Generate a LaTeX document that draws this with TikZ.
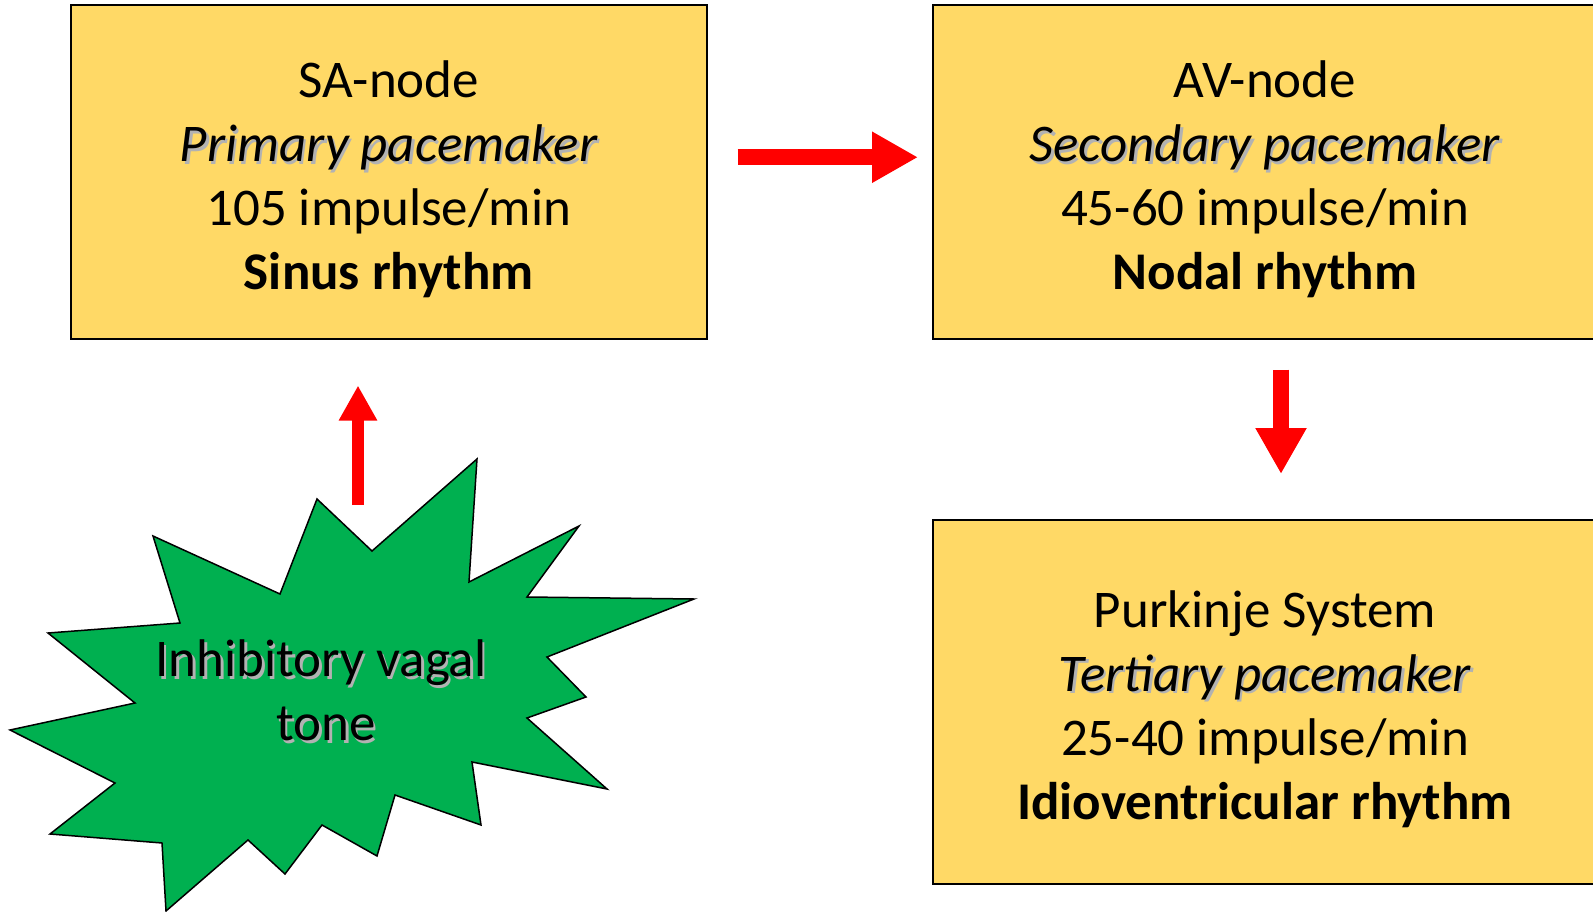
\documentclass[tikz,border=0pt]{standalone}
\usepackage{fontspec}
\setmainfont{Carlito}
\usetikzlibrary{arrows.meta}
\definecolor{boxyellow}{RGB}{255,217,102}
\definecolor{stargreen}{RGB}{0,176,80}
\newcommand{\shadowtext}[1]{\rlap{\hspace{2.5pt}\raisebox{-2.5pt}{\textcolor{black!30}{#1}}}#1}
\newcommand{\topstrut}{\rule{0pt}{51pt}}

\begin{document}
\begin{tikzpicture}
          [x=1pt, y=-1pt, font=\fontsize{53}{64}\selectfont,
          box/.style={draw=black, line width=2pt, fill=boxyellow, align=center, inner sep=0pt},
          star/.style={draw=black, line width=1.5pt, fill=stargreen, line join=miter},
          bigarrow/.style={draw=red, line width=16pt, -{Triangle[width=48pt,length=46pt]}},
          smallarrow/.style={draw=red, line width=12pt, -{Triangle[width=36pt,length=35pt]}}]

          \useasboundingbox (0,0) rectangle (1593,912);
          \clip (0,0) rectangle (1593,912);

            \node (sa) [box, minimum width=635.5pt, minimum height=333.5pt] at (388.75,172.25)
              {\topstrut SA-node\\\shadowtext{\textit{Primary pacemaker}}\\105 impulse/min\\\textbf{Sinus rhythm}};
            \node (av) [box, minimum width=664pt, minimum height=333.5pt] at (1265,172.25)
              {\topstrut AV-node\\\shadowtext{\textit{Secondary pacemaker}}\\45-60 impulse/min\\\textbf{Nodal rhythm}};
            \node (pk) [box, minimum width=664pt, minimum height=364pt] at (1265,702)
              {\topstrut Purkinje System\\\shadowtext{\textit{Tertiary pacemaker}}\\25-40 impulse/min\\\textbf{Idioventricular rhythm}};

          % vagal starburst
          \draw [star] (477,459) -- (469,582) -- (579,526) -- (527,597) -- (694,599)
            -- (547,657) -- (586,697) -- (527,718) -- (607,789) -- (472,762)
            -- (481,825) -- (395,795) -- (377,856) -- (322,825) -- (285,874)
            -- (248,840) -- (166,911) -- (162,843) -- (50,834) -- (115,783)
            -- (10,730) -- (135,703) -- (48,633) -- (180,623) -- (153,536)
            -- (280,594) -- (317,499) -- (372,551) -- cycle;
            \node (vagal) [align=center, inner sep=0pt] at (321,692)
              {\shadowtext{Inhibitory vagal}\\\hspace*{10pt}\shadowtext{tone}};

          \coordinate (vagaltop) at (358,505);

            \draw [bigarrow, shorten <=30pt, shorten >=14pt] ([yshift=15pt]sa.east) -- ([yshift=15pt]av.west);
            \draw [bigarrow, shorten <=29.5pt, shorten >=45pt] ([xshift=16pt]av.south) -- ([xshift=16pt]pk.north);
            \draw [smallarrow, shorten >=45.5pt] (vagaltop) -- (vagaltop |- sa.south);

        \end{tikzpicture}
\end{document}
